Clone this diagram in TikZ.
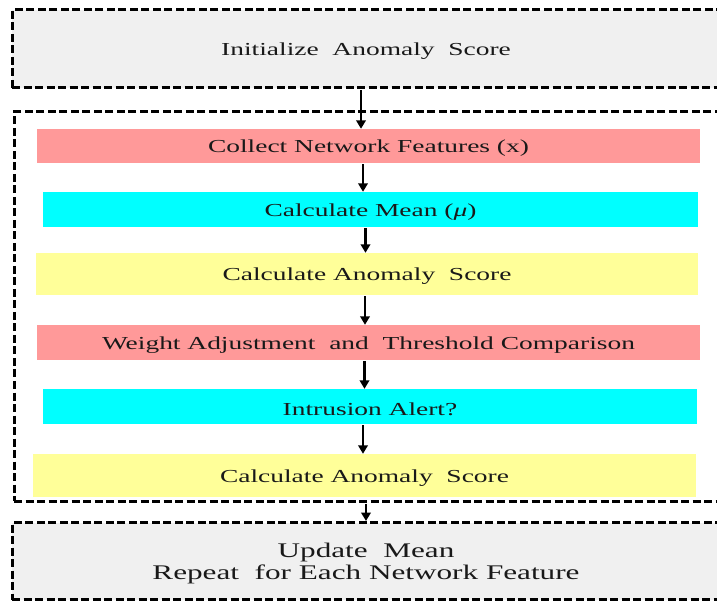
\documentclass[tikz,border=0pt]{standalone}
\usepackage{fontspec}
\setmainfont{Liberation Serif}
\usetikzlibrary{arrows.meta}
\definecolor{boxgray}{HTML}{F0F0F0}
\definecolor{rowpink}{HTML}{FF9999}
\definecolor{rowcyan}{HTML}{00FFFF}
\definecolor{rowyellow}{HTML}{FFFF99}
% labels are set wide, stretched horizontally and drawn a little low
\newcommand\widetext[1]{\raisebox{-2.5pt}[\height][\depth]{\scalebox{1.5}[1]{#1}}}

\begin{document}
\begin{tikzpicture}[x=1pt,y=-1pt,
  frame/.style={draw=black, line width=3pt, dash pattern=on 8pt off 3.5pt,
    fill=boxgray, rectangle, inner sep=0pt},
  container/.style={draw=black, line width=3pt, dash pattern=on 8pt off 3.5pt,
    rectangle, inner sep=0pt},
  row/.style={rectangle, inner sep=0pt, draw=none},
  lbl/.style={font=\fontsize{18.3}{22.5}\selectfont, align=center, text=black!90},
  biglbl/.style={font=\fontsize{20.8}{22.5}\selectfont, align=center, text=black!90},
  flow/.style={-{Triangle[length=8.5pt,width=9.5pt]}, line width=2.8pt, shorten <=1pt}]

\useasboundingbox (0,0) rectangle (717,601);
\clip (0,0) rectangle (717,601);

% outer frames
\node[frame, minimum width=708pt, minimum height=78pt, lbl] (init) at (366,49)
  {\widetext{Initialize\ \ Anomaly\ \ Score}};
\node[container, minimum width=706pt, minimum height=389pt] (loop) at (367,306.5) {};
\node[frame, minimum width=708pt, minimum height=77pt, biglbl] (update) at (366,561)
  {\widetext{Update\ \ Mean}\\\widetext{Repeat\ \ for Each Network Feature}};

% steps inside the loop
\node[row, fill=rowpink, minimum width=663pt, minimum height=34pt, lbl] (collect) at (368.5,146)
  {\widetext{Collect Network Features (x)}};
\node[row, fill=rowcyan, minimum width=655pt, minimum height=35pt, lbl] (mean) at (370.5,209.5)
  {\widetext{Calculate Mean (\textit{μ})}};
\node[row, fill=rowyellow, minimum width=662pt, minimum height=42pt, lbl] (score) at (367,274)
  {\widetext{Calculate Anomaly\ \ Score}};
\node[row, fill=rowpink, minimum width=663pt, minimum height=35pt, lbl] (weight) at (368.5,342.5)
  {\widetext{Weight Adjustment\ \ and\ \ Threshold Comparison}};
\node[row, fill=rowcyan, minimum width=654pt, minimum height=35pt, lbl] (alert) at (370,406.5)
  {\widetext{Intrusion Alert?}};
\node[row, fill=rowyellow, minimum width=663pt, minimum height=43pt, lbl] (score2) at (364.5,475.5)
  {\widetext{Calculate Anomaly\ \ Score}};

% connectors
\draw[flow] ([xshift=-5pt]init.south) -- ([xshift=-7.5pt]collect.north);
\draw[flow] ([xshift=-5.5pt]collect.south) -- ([xshift=-7.5pt]mean.north);
\draw[flow] ([xshift=-5pt]mean.south) -- ([xshift=-1.5pt]score.north);
\draw[flow] ([xshift=-2pt]score.south) -- ([xshift=-3.5pt]weight.north);
\draw[flow] ([xshift=-4pt]weight.south) -- ([xshift=-5.5pt]alert.north);
\draw[flow] ([xshift=-7pt]alert.south) -- ([xshift=-1.5pt]score2.north);
\draw[flow] ([xshift=-1pt]loop.south) -- (update.north);
\end{tikzpicture}
\end{document}
